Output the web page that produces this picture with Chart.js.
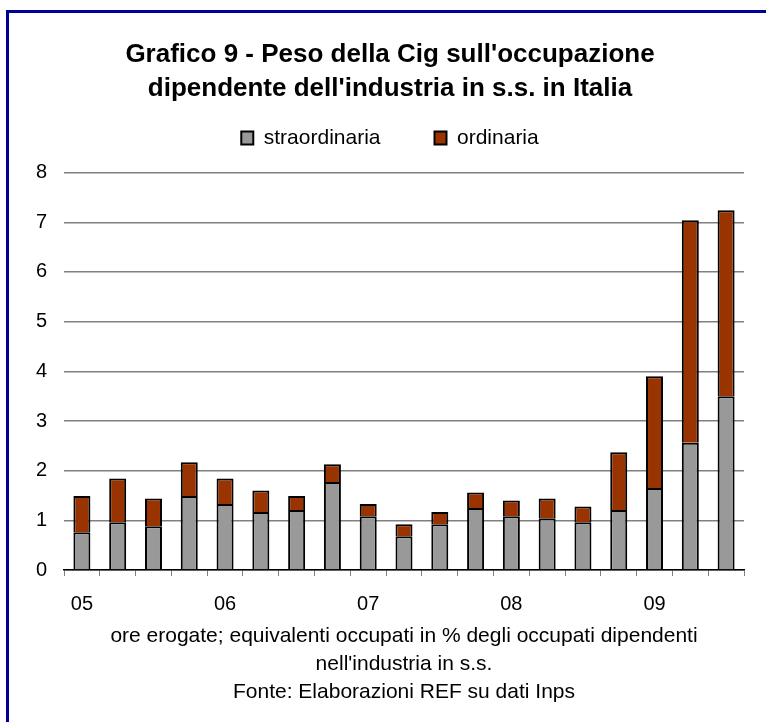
<!DOCTYPE html>
<html>
<head>
<meta charset="utf-8">
<script src="https://cdn.jsdelivr.net/npm/chart.js@4"></script>
<style>
  body { margin: 0; background: #fff; }
  #wrap { position: relative; width: 766px; height: 722px; }
  #frame { position: absolute; left: 6px; top: 10px; right: 0; bottom: 0;
           border-left: 3px solid #000099; border-top: 3px solid #000099; pointer-events: none; }
</style>
</head>
<body>
<div id="wrap">
  <canvas id="myChart" width="766" height="722"></canvas>
  <div id="frame"></div>
</div>
<script>
// quarters 2005 Q1 .. 2009 Q3
const quarters = ['05', '', '', '', '06', '', '', '', '07', '', '', '', '08', '', '', '', '09', '', ''];
const straordinaria = [0.76, 0.96, 0.88, 1.49, 1.33, 1.17, 1.21, 1.77, 1.08, 0.68, 0.92, 1.25, 1.08, 1.04, 0.96, 1.21, 1.65, 2.56, 3.50];
const ordinaria = [0.73, 0.88, 0.56, 0.68, 0.51, 0.43, 0.28, 0.36, 0.25, 0.24, 0.25, 0.31, 0.32, 0.40, 0.32, 1.16, 2.25, 4.48, 3.74];
const yTicks = [0, 1, 2, 3, 4, 5, 6, 7, 8];

const FONT = "'Liberation Sans', Arial, sans-serif";

// extra room between the legend and the plot
const legendGap = {
  id: 'legendGap',
  beforeInit(chart) {
    const fit = chart.legend.fit;
    chart.legend.fit = function () {
      fit.call(this);
      this.height += 14;
    };
  }
};

const ctx = document.getElementById('myChart');

new Chart(ctx, {
  type: 'bar',
  data: {
    labels: quarters,
    datasets: [{
      label: 'straordinaria',
      data: straordinaria,
      backgroundColor: '#999999',
      borderColor: '#000000',
      borderWidth: 2
    }, {
      label: 'ordinaria',
      data: ordinaria,
      backgroundColor: '#993300',
      borderColor: '#000000',
      borderWidth: 2
    }]
  },
  plugins: [legendGap],
  options: {
    responsive: false,
    animation: false,
    barPercentage: 0.475,
    categoryPercentage: 1,
    layout: { padding: { left: 36, right: 22, top: 0, bottom: 0 } },
    plugins: {
      tooltip: { enabled: false },
      title: {
        display: true,
        text: ["Grafico 9 - Peso della Cig sull'occupazione", "dipendente dell'industria in s.s. in Italia"],
        color: '#000',
        font: { family: FONT, size: 26, weight: 'bold', lineHeight: 1.3 },
        padding: { top: 38, bottom: -32 }
      },
      legend: {
        display: true,
        labels: {
          color: '#000',
          font: { family: FONT, size: 21 },
          boxWidth: 12,
          boxHeight: 13,
          padding: 54
        }
      }
    },
    scales: {
      x: {
        stacked: true,
        grid: { display: true, drawOnChartArea: false, drawTicks: true, tickLength: 6, color: '#808080', lineWidth: 1 },
        border: { display: true, color: '#000', width: 1.5 },
        ticks: { color: '#000', font: { family: FONT, size: 20 }, padding: 16, autoSkip: false, maxRotation: 0 },
        title: {
          display: true,
          text: ['ore erogate; equivalenti occupati in % degli occupati dipendenti', "nell'industria in s.s.", 'Fonte: Elaborazioni REF su dati Inps'],
          color: '#000',
          font: { family: FONT, size: 21, lineHeight: 1.333 },
          padding: { top: -10, bottom: 16 }
        }
      },
      y: {
        stacked: true,
        min: 0,
        max: 8,
        afterBuildTicks(scale) { scale.ticks = yTicks.map(v => ({ value: v })); },
        afterFit(scale) { scale.width = 28; },
        grid: { color: '#808080', lineWidth: 1.5, drawTicks: false },
        border: { display: false },
        ticks: { color: '#000', font: { family: FONT, size: 20 }, padding: 17 }
      }
    }
  }
});
</script>
</body>
</html>
